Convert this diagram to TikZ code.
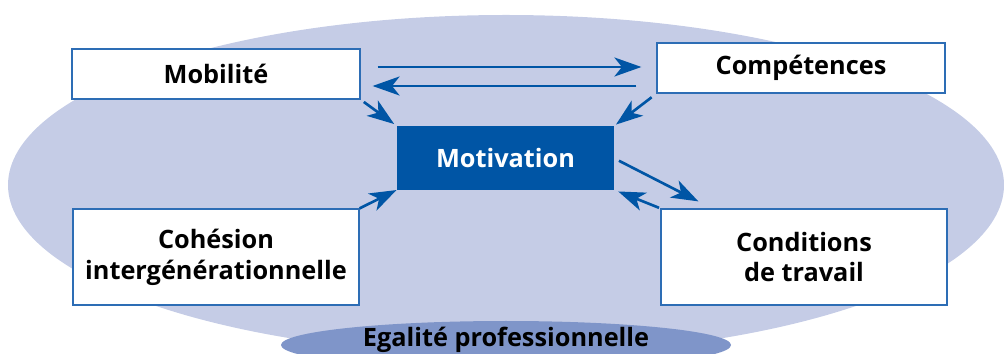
\documentclass[tikz,border=0pt]{standalone}
\usepackage{fontspec}
\setmainfont{Open Sans}
\usetikzlibrary{arrows.meta,calc}
\definecolor{bleu}{HTML}{0055A5}
\definecolor{bordure}{HTML}{2D6DB5}
\definecolor{fond}{HTML}{C5CCE6}
\definecolor{socle}{HTML}{7F95C9}
\tikzset{
  cadre/.style={draw=bordure,line width=.7pt,fill=white,align=center,inner sep=0pt,
    font=\bfseries\fontsize{14.4}{17.5}\selectfont},
  fleche/.style={draw=bleu,line width=1.5pt,-{Stealth[length=5.4mm,width=3.8mm,inset=1.5mm]}}
}
\begin{document}
\begin{tikzpicture}[x=0.02cm,y=-0.02cm]
\useasboundingbox (0,0) rectangle (1004,354);
\fill[fond] (506,185) ellipse [x radius=498,y radius=170];
\fill[socle] (506,345) ellipse [x radius=225,y radius=24];
\node[font=\bfseries\fontsize{14.4}{17.5}\selectfont] (egal) at (506,340) {Egalité professionnelle};

\node[cadre,minimum width=5.76cm,minimum height=1cm] (mob) at (216,74) {Mobilité};
\node[cadre,minimum width=5.76cm,minimum height=1cm] (comp) at (801,68) {Compétences};
\node[cadre,draw=bleu,fill=bleu,text=white,minimum width=4.3cm,minimum height=1.24cm] (motiv) at (505.5,158) {Motivation};
\node[cadre,minimum width=5.72cm,minimum height=1.92cm] (coh) at (216,257) {Cohésion\\intergénérationnelle};
\node[cadre,minimum width=5.72cm,minimum height=1.92cm] (cond) at (804,257) {Conditions\\de travail};

\draw[fleche,shorten <=3.4mm,shorten >=3mm] (mob.east |- 0,67) -- (comp.west |- 0,67);
\draw[fleche,shorten <=4mm,shorten >=2.4mm] (comp.west |- 0,86) -- (mob.east |- 0,86);
\draw[fleche,shorten <=.8mm,shorten >=.8mm] (mob.south east) -- (motiv.north west);
\draw[fleche,shorten <=1.2mm,shorten >=.6mm] (comp.south west) -- (motiv.north east);
\draw[fleche,shorten >=.2mm] (coh.north east) -- (motiv.south west);
\draw[fleche,shorten <=1.2mm] (motiv.east) -- ($(cond.north west)+(38,-7)$);
\draw[fleche,shorten <=.3mm,shorten >=1mm] (cond.north west) -- (motiv.south east);
\end{tikzpicture}
\end{document}
